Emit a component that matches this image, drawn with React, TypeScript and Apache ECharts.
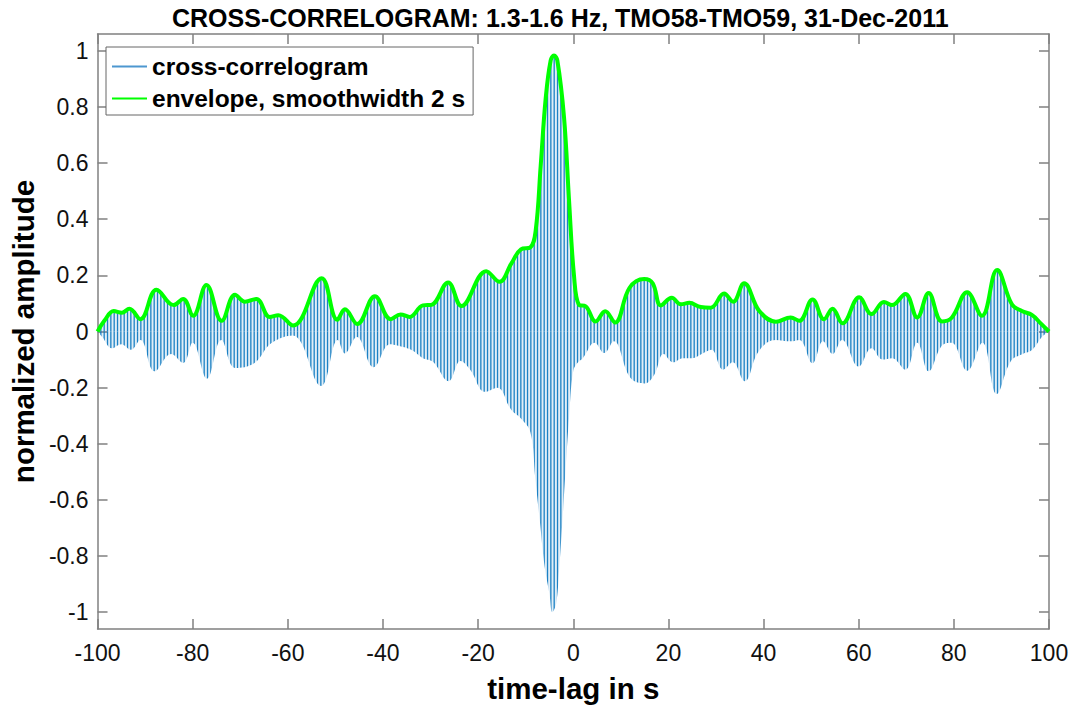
import React, { useEffect, useRef } from "react";
import * as echarts from "echarts";

const FONT = '"Liberation Sans", Arial, Helvetica, sans-serif';

const titleText = "CROSS-CORRELOGRAM: 1.3-1.6 Hz, TMO58-TMO59, 31-Dec-2011";
const xAxisTitle = "time-lag in s";
const yAxisTitle = "normalized amplitude";
const seriesNames = ["cross-correlogram", "envelope, smoothwidth 2 s"];

const yTicks = [-1, -0.8, -0.6, -0.4, -0.2, 0, 0.2, 0.4, 0.6, 0.8, 1];

// Envelope (green): time-lag (s) and amplitude
const envelopeTime = [
  -100, -98.5, -96.6, -94.9, -93.3, -91.0, -87.6, -84.0, -82.0, -79.9, -77.1, -73.9, -71.1, -69.0,
  -66.6, -63.8, -62.0, -58.9, -52.9, -49.6, -48.0, -45.4, -41.7, -38.4, -36.3, -34.4, -31.6, -29.8,
  -26.3, -23.5, -18.3, -15.5, -13.0, -11.0, -9.0, -7.9, -6.85, -5.8, -4.75, -4.05, -3.35, -1.95,
  -0.9, 0.15, 1.2, 2.6, 4.7, 6.7, 8.8, 11.8, 14.9, 16.7, 18.4, 20.7, 22.6, 24.4, 26.8, 28.9, 31.7,
  33.6, 35.9, 39.1, 42.6, 45.7, 47.5, 50.3, 52.7, 54.5, 56.6, 60.1, 62.7, 65.3, 67.0, 69.8, 72.3,
  74.7, 77.5, 79.6, 82.8, 85.9, 89.1, 92.2, 94.3, 96.4, 98.2, 100,
];
const envelopeValue = [
  0, 0.04, 0.073, 0.067, 0.081, 0.044, 0.149, 0.094, 0.116, 0.056, 0.166, 0.038, 0.131, 0.106,
  0.116, 0.052, 0.058, 0.021, 0.19, 0.042, 0.079, 0.027, 0.126, 0.044, 0.061, 0.052, 0.093, 0.095,
  0.175, 0.091, 0.215, 0.177, 0.243, 0.293, 0.3, 0.36, 0.59, 0.83, 0.966, 0.983, 0.966, 0.765,
  0.471, 0.2, 0.095, 0.09, 0.036, 0.072, 0.032, 0.155, 0.187, 0.172, 0.093, 0.12, 0.097, 0.102,
  0.087, 0.085, 0.135, 0.106, 0.172, 0.073, 0.035, 0.05, 0.038, 0.114, 0.044, 0.081, 0.029, 0.122,
  0.062, 0.105, 0.094, 0.134, 0.05, 0.137, 0.036, 0.05, 0.14, 0.056, 0.219, 0.097, 0.073, 0.059,
  0.03, 0,
];

// Lower extent of the cross-correlogram oscillation (its troughs)
const troughTime = [
  -100, -99, -97, -95, -93, -91, -88, -84.5, -82, -80, -77, -74, -71, -67, -63.5, -59, -53, -49.5,
  -48, -45.5, -42, -38.5, -37, -34, -31.7, -29.5, -26.2, -23.7, -21.7, -18.5, -16, -13, -11, -9,
  -8, -7, -6, -5, -4.4, -3.6, -3, -2.3, -1.6, -0.9, 0, 1, 2, 4.5, 6.5, 8.5, 12, 15, 17, 19, 21, 23,
  25, 27, 29, 31.5, 33.5, 36, 39, 42.5, 45.7, 47.5, 50.3, 52.5, 54.5, 56.5, 60, 62.7, 65, 67, 69.8,
  72.3, 74.7, 77.5, 79.5, 82.8, 86, 89, 92, 94.5, 96.5, 98.5, 100,
];
const troughValue = [
  0, -0.02, -0.06, -0.045, -0.065, -0.03, -0.142, -0.08, -0.112, -0.04, -0.168, -0.03, -0.13,
  -0.112, -0.042, -0.014, -0.194, -0.03, -0.078, -0.02, -0.127, -0.045, -0.05, -0.066, -0.094,
  -0.108, -0.177, -0.105, -0.135, -0.215, -0.2, -0.28, -0.31, -0.36, -0.52, -0.68, -0.84, -0.935,
  -1.0, -0.97, -0.855, -0.68, -0.49, -0.31, -0.14, -0.11, -0.095, -0.04, -0.077, -0.035, -0.165,
  -0.185, -0.155, -0.08, -0.11, -0.095, -0.095, -0.08, -0.065, -0.136, -0.11, -0.177, -0.07,
  -0.03, -0.035, -0.03, -0.113, -0.035, -0.08, -0.03, -0.125, -0.06, -0.1, -0.095, -0.136, -0.04,
  -0.142, -0.05, -0.04, -0.14, -0.04, -0.223, -0.105, -0.08, -0.065, -0.02, 0,
];

const AXIS_COLOR = "#808080";

function stripePattern() {
  const c = document.createElement("canvas");
  c.width = 10;
  c.height = 4;
  const ctx = c.getContext("2d");
  if (ctx) {
    ctx.fillStyle = "rgba(0,114,189,0.12)";
    ctx.fillRect(0, 0, 10, 4);
    ctx.fillStyle = "rgba(0,114,189,0.88)";
    [0.2, 3.53, 6.87].forEach((x) => ctx.fillRect(x, 0, 1.3, 4));
  }
  return { image: c.toDataURL(), repeat: "repeat", imageWidth: 10, imageHeight: 4 };
}

export default function App() {
  const ref = useRef<HTMLDivElement>(null);

  useEffect(() => {
    document.body.style.margin = "0";
    if (!ref.current) return;
    const chart = echarts.init(ref.current, undefined, { renderer: "svg" });

    const envData = envelopeTime.map((t, i) => [t, envelopeValue[i]]);
    const troughData = troughTime.map((t, i) => [t, troughValue[i]]);
    const pattern = stripePattern();

    const tickLabel = { fontFamily: FONT, fontSize: 23, color: "#111" };
    const axisLine = { show: true, onZero: false, lineStyle: { color: AXIS_COLOR, width: 1.5 } };
    const tickStyle = { color: AXIS_COLOR, width: 1.5 };

    chart.setOption({
      animation: false,
      backgroundColor: "#fff",
      title: {
        text: titleText,
        left: 172,
        top: 5,
        padding: 0,
        textStyle: { fontFamily: FONT, fontSize: 25, fontWeight: "bold", color: "#000" },
      },
      legend: {
        data: seriesNames,
        orient: "vertical",
        left: 106,
        top: 47,
        itemWidth: 35,
        itemHeight: 14,
        itemGap: 7,
        padding: [7, 8, 4, 5],
        borderColor: "#666",
        borderWidth: 1,
        backgroundColor: "#fff",
        selectedMode: false,
        itemStyle: { opacity: 0 },
        textStyle: { fontFamily: FONT, fontSize: 24.5, fontWeight: "bold", color: "#000" },
      },
      grid: { left: 94, right: 26, top: 34, bottom: 72 },
      xAxis: [
        {
          type: "value",
          min: -100,
          max: 100,
          interval: 20,
          position: "bottom",
          name: xAxisTitle,
          nameLocation: "middle",
          nameGap: 44,
          nameTextStyle: { fontFamily: FONT, fontSize: 29.5, fontWeight: "bold", color: "#000" },
          axisLine,
          axisTick: { show: true, inside: true, length: 10, lineStyle: tickStyle },
          axisLabel: { ...tickLabel, margin: 12 },
          splitLine: { show: false },
        },
        {
          type: "value",
          min: -100,
          max: 100,
          interval: 20,
          position: "top",
          axisLine,
          axisTick: { show: true, inside: true, length: 10, lineStyle: tickStyle },
          axisLabel: { show: false },
          splitLine: { show: false },
        },
      ],
      yAxis: [
        {
          type: "value",
          min: -1.06,
          max: 1.06,
          position: "left",
          name: yAxisTitle,
          nameLocation: "middle",
          nameRotate: 90,
          nameGap: 55,
          nameTextStyle: { fontFamily: FONT, fontSize: 29.5, fontWeight: "bold", color: "#000" },
          axisLine,
          axisTick: { show: true, inside: true, length: 10, customValues: yTicks, lineStyle: tickStyle },
          axisLabel: { ...tickLabel, margin: 9, customValues: yTicks },
          splitLine: { show: false },
        },
        {
          type: "value",
          min: -1.06,
          max: 1.06,
          position: "right",
          axisLine,
          axisTick: { show: true, inside: true, length: 10, customValues: yTicks, lineStyle: tickStyle },
          axisLabel: { show: false, customValues: yTicks },
          splitLine: { show: false },
        },
      ],
      series: [
        {
          name: "cc-lower",
          type: "line",
          data: troughData,
          xAxisIndex: 0,
          yAxisIndex: 0,
          symbol: "none",
          smooth: 0.4,
          silent: true,
          lineStyle: { width: 0, color: "#0072BD" },
          areaStyle: { color: pattern, opacity: 1, origin: 0 },
          z: 2,
        },
        {
          name: seriesNames[0],
          type: "line",
          data: envData,
          xAxisIndex: 0,
          yAxisIndex: 0,
          symbol: "none",
          smooth: 0.4,
          silent: true,
          lineStyle: { width: 1, color: "#4d97d0" },
          itemStyle: { color: "#4d97d0" },
          areaStyle: { color: pattern, opacity: 1, origin: 0 },
          z: 2,
        },
        {
          name: seriesNames[1],
          type: "line",
          data: envData,
          xAxisIndex: 0,
          yAxisIndex: 0,
          symbol: "none",
          smooth: 0.4,
          silent: true,
          lineStyle: { width: 4, color: "#00ff00" },
          itemStyle: { color: "#00ff00" },
          z: 3,
        },
      ],
    });

    return () => chart.dispose();
  }, []);

  return (
    <div
      ref={ref}
      style={{ position: "absolute", left: 0, top: 0, width: 1075, height: 708 }}
    />
  );
}
